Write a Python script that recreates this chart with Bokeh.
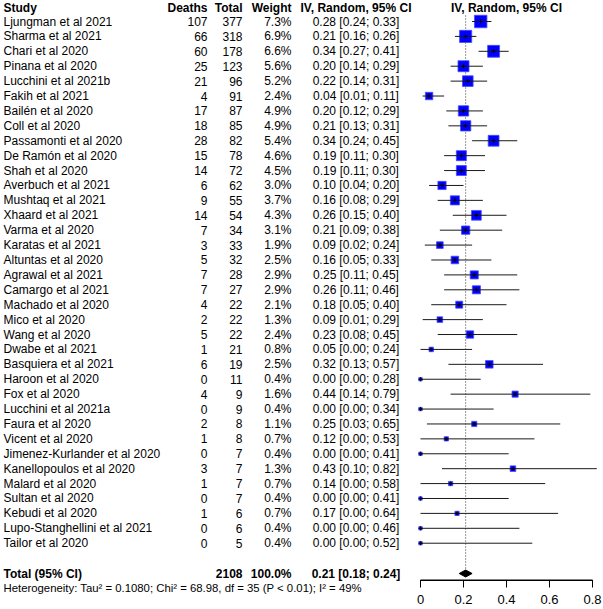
import numpy as np
from bokeh.plotting import figure
from bokeh.models import Range1d, LinearAxis, FixedTicker, ColumnDataSource
from bokeh.core.properties import value
from bokeh.embed import file_html
from bokeh.resources import INLINE

# ---------------- data ----------------
studies = ["Ljungman et al 2021", "Sharma et al 2021", "Chari et al 2020", "Pinana et al 2020",
           "Lucchini et al 2021b", "Fakih et al 2021", "Bailén et al 2020", "Coll et al 2020",
           "Passamonti et al 2020", "De Ramón et al 2020", "Shah et al 2020", "Averbuch et al 2021",
           "Mushtaq et al 2021", "Xhaard et al 2021", "Varma et al 2020", "Karatas et al 2021",
           "Altuntas et al 2020", "Agrawal et al 2021", "Camargo et al 2021", "Machado et al 2020",
           "Mico et al 2020", "Wang et al 2020", "Dwabe et al 2021", "Basquiera et al 2021",
           "Haroon et al 2020", "Fox et al 2020", "Lucchini et al 2021a", "Faura et al 2020",
           "Vicent et al 2020", "Jimenez-Kurlander et al 2020", "Kanellopoulos et al 2020",
           "Malard et al 2020", "Sultan et al 2020", "Kebudi et al 2020",
           "Lupo-Stanghellini et al 2021", "Tailor et al 2020"]
deaths = [107, 66, 60, 25, 21, 4, 17, 18, 28, 15, 14, 6, 9, 14, 7, 3, 5, 7, 7, 4, 2, 5, 1, 6,
          0, 4, 0, 2, 1, 0, 3, 1, 0, 1, 0, 0]
totals = [377, 318, 178, 123, 96, 91, 87, 85, 82, 78, 72, 62, 55, 54, 34, 33, 32, 28, 27, 22,
          22, 22, 21, 19, 11, 9, 9, 8, 8, 7, 7, 7, 7, 6, 6, 5]
weights = [7.3, 6.9, 6.6, 5.6, 5.2, 2.4, 4.9, 4.9, 5.4, 4.6, 4.5, 3.0, 3.7, 4.3, 3.1, 1.9, 2.5,
           2.9, 2.9, 2.1, 1.3, 2.4, 0.8, 2.5, 0.4, 1.6, 0.4, 1.1, 0.7, 0.4, 1.3, 0.7, 0.4, 0.7,
           0.4, 0.4]
est = [0.28, 0.21, 0.34, 0.20, 0.22, 0.04, 0.20, 0.21, 0.34, 0.19, 0.19, 0.10, 0.16, 0.26, 0.21,
       0.09, 0.16, 0.25, 0.26, 0.18, 0.09, 0.23, 0.05, 0.32, 0.00, 0.44, 0.00, 0.25, 0.12, 0.00,
       0.43, 0.14, 0.00, 0.17, 0.00, 0.00]
lo = [0.24, 0.16, 0.27, 0.14, 0.14, 0.01, 0.12, 0.13, 0.24, 0.11, 0.11, 0.04, 0.08, 0.15, 0.09,
      0.02, 0.05, 0.11, 0.11, 0.05, 0.01, 0.08, 0.00, 0.13, 0.00, 0.14, 0.00, 0.03, 0.00, 0.00,
      0.10, 0.00, 0.00, 0.00, 0.00, 0.00]
hi = [0.33, 0.26, 0.41, 0.29, 0.31, 0.11, 0.29, 0.31, 0.45, 0.30, 0.30, 0.20, 0.29, 0.40, 0.38,
      0.24, 0.33, 0.45, 0.46, 0.40, 0.29, 0.45, 0.24, 0.57, 0.28, 0.79, 0.34, 0.65, 0.53, 0.41,
      0.82, 0.58, 0.41, 0.64, 0.46, 0.52]
total_n = 2108
total_weight = 100.0
pooled_est, pooled_lo, pooled_hi = 0.21, 0.18, 0.24
heterogeneity = "Heterogeneity: Tau\u00b2 = 0.1080; Chi\u00b2 = 68.98, df = 35 (P < 0.01); I\u00b2 = 49%"
headers = ["Study", "Deaths", "Total", "Weight", "IV, Random, 95% CI"]
tick_vals = [0, 0.2, 0.4, 0.6, 0.8]
tick_labels = ["0", "0.2", "0.4", "0.6", "0.8"]

# ---------------- layout ----------------
W, H = 603, 609
PPU = 215.0              # pixels per unit of proportion
ZERO_PX = 420            # pixel of proportion 0
AX_Y = 579.5             # axis line
TICK_LEN = 7

STUDY_X, DEATHS_X, TOTAL_X, WEIGHT_X, CI_X = 3, 207, 242, 291, 355.5
HEAD_Y = 7
ROW0, ROWH = 21.0, 14.906
TOT_Y = 573
HET_Y = 587

FONT = value("Liberation Sans")
FS = value("12px")

n = len(studies)
ys = [ROW0 + i * ROWH for i in range(n)]

src = ColumnDataSource(dict(
    study=studies, deaths=[str(d) for d in deaths], total=[str(t) for t in totals],
    weight=[f"{w:.1f}%" for w in weights],
    ci=[f"{e:.2f} [{l:.2f}; {h:.2f}]" for e, l, h in zip(est, lo, hi)],
    est=est, lo=lo, hi=hi, y=ys,
    size=[4.4 * np.sqrt(w) + 0.6 for w in weights],
    sx=[STUDY_X] * n, dx=[DEATHS_X] * n, tx=[TOTAL_X] * n, wx=[WEIGHT_X] * n, cx=[CI_X] * n,
))

x0 = -ZERO_PX / PPU
p = figure(width=W, height=H, x_range=Range1d(x0, x0 + W / PPU), y_range=Range1d(H, 0),
           output_backend="svg", toolbar_location=None, x_axis_location=None,
           y_axis_location=None, min_border=0, outline_line_color=None)
p.extra_x_ranges = {"px": Range1d(0, W)}
p.grid.grid_line_color = None

# ---------- table ----------
common = dict(source=src, y="y", text_font=FONT, text_font_size=FS, text_color="black",
              text_baseline="middle", x_range_name="px")
p.text(x="sx", text="study", text_align="left", **common)
p.text(x="dx", text="deaths", text_align="right", **common)
p.text(x="tx", text="total", text_align="right", **common)
p.text(x="wx", text="weight", text_align="right", **common)
p.text(x="cx", text="ci", text_align="center", **common)

hx = [STUDY_X, DEATHS_X, TOTAL_X, WEIGHT_X, CI_X]
hal = ["left", "right", "right", "right", "center"]
for x, a, t in zip(hx, hal, headers):
    p.text(x=[x], y=[HEAD_Y], text=[t], text_align=a, text_baseline="middle", text_font=FONT,
           text_font_size=FS, text_font_style="bold", text_color="black", x_range_name="px")

tot_x = [STUDY_X, TOTAL_X, WEIGHT_X, CI_X]
tot_al = ["left", "right", "right", "center"]
tot_txt = ["Total (95% CI)", str(total_n), f"{total_weight:.1f}%",
           f"{pooled_est:.2f} [{pooled_lo:.2f}; {pooled_hi:.2f}]"]
for x, a, t in zip(tot_x, tot_al, tot_txt):
    p.text(x=[x], y=[TOT_Y], text=[t], text_align=a, text_baseline="middle", text_font=FONT,
           text_font_size=FS, text_font_style="bold", text_color="black", x_range_name="px")

p.text(x=[STUDY_X], y=[HET_Y], text=[heterogeneity], text_align="left",
       text_baseline="middle", text_font=FONT, text_font_size=value("11.35px"),
       text_color="black", x_range_name="px")

# ---------- forest ----------
p.text(x=[0.4], y=[HEAD_Y], text=[headers[-1]], text_align="center", text_baseline="middle",
       text_font=FONT, text_font_size=FS, text_font_style="bold", text_color="black")

p.segment(x0=[pooled_est], y0=[15], x1=[pooled_est], y1=[TOT_Y - 4],
          line_color="#333333", line_width=1, line_dash="1 2")

p.scatter(x="est", y="y", size="size", marker="square", source=src, fill_color="#0000ff",
          line_color="#4a4aff", line_width=0.8)
p.segment(x0="lo", y0="y", x1="hi", y1="y", source=src, line_color="#1a1a1a", line_width=1)
p.scatter(x="est", y="y", size=4, marker="cross", source=src, line_color="#000000",
          line_width=1)

p.patch(x=[pooled_lo, pooled_est, pooled_hi, pooled_est],
        y=[TOT_Y, TOT_Y - 3.5, TOT_Y, TOT_Y + 3.5], fill_color="black", line_color="black")

# axis rule and ticks (drawn through the same scales as the tick values)
p.segment(x0=[tick_vals[0]], y0=[AX_Y], x1=[tick_vals[-1]], y1=[AX_Y], line_color="black",
          line_width=1)
p.segment(x0=tick_vals, y0=[AX_Y] * len(tick_vals), x1=tick_vals,
          y1=[AX_Y + TICK_LEN] * len(tick_vals), line_color="black", line_width=1)

ax = LinearAxis(ticker=FixedTicker(ticks=tick_vals), bounds=(tick_vals[0], tick_vals[-1]),
                major_label_overrides={v: l for v, l in zip(tick_vals, tick_labels)},
                fixed_location=AX_Y)
ax.major_tick_out = TICK_LEN
ax.major_tick_in = 0
ax.minor_tick_out = 0
ax.minor_tick_in = 0
ax.major_label_standoff = 8
ax.axis_line_color = "black"
ax.major_tick_line_color = "black"
ax.major_label_text_font = "Liberation Sans"
ax.major_label_text_font_size = "13px"
ax.major_label_text_color = "black"
p.add_layout(ax, "below")

open("out.html", "w").write(file_html(p, INLINE))
